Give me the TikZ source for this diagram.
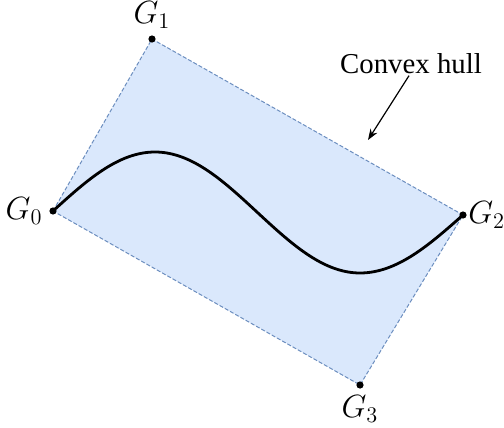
\documentclass[tikz,border=0pt]{standalone}
\usepackage{fontspec}
\newfontfamily\hullfont{Liberation Serif}
\usepackage{tikz}
\usetikzlibrary{arrows.meta}

\definecolor{hullfill}{HTML}{DAE8FC}
\definecolor{hulledge}{HTML}{6C8EBF}

\begin{document}
\begin{tikzpicture}[
  x=0.5pt, y=-0.5pt,
  pt/.style={circle, fill=black, inner sep=0pt, minimum size=3.6pt},
  glbl/.style={font=\LARGE, scale=0.93},
  hull/.style={draw=hulledge, fill=hullfill, line width=0.5pt, dash pattern=on 2pt off 1pt},
  curve/.style={line width=1.4pt, black},
  pointer/.style={-{Stealth[length=5.5pt,width=4pt]}, line width=0.6pt},
  note/.style={font=\hullfont\fontsize{14.4}{17}\selectfont, inner sep=1pt}
]
  \useasboundingbox (0,0) rectangle (504,428);

  % --- PUNTOS DE CONTROL ---
  \coordinate (g0) at (53,211);
  \coordinate (g1) at (152,39);
  \coordinate (g2) at (463,215);
  \coordinate (g3) at (360,385);

  % Envolvente convexa
  \draw[hull] (g0) -- (g1) -- (g2) -- (g3) -- cycle;

  % --- CURVA ---
  \coordinate (crest) at (155,152);
  \coordinate (mid) at (258,213);
  \coordinate (trough) at (360,273);
  \draw[curve] (g0) sin (crest) cos (mid) sin (trough) cos (g2);

  % Puntos y etiquetas
  \node[pt, label={[glbl]left:$G_0$}] (p0) at (g0) {};
  \node[pt, label={[glbl]above:$G_1$}] (p1) at (g1) {};
  \node[pt, label={[glbl, label distance=-2.8pt]right:$G_2$}] (p2) at (g2) {};
  \node[pt, label={[glbl]below:$G_3$}] (p3) at (g3) {};

  % --- ANOTACION ---
  \node[note, anchor=base] (hulltxt) at (411,73) {Convex hull};
  \coordinate (tip) at (368,140);
  \draw[pointer] ([xshift=-1pt]hulltxt.south) -- (tip);

\end{tikzpicture}
\end{document}
